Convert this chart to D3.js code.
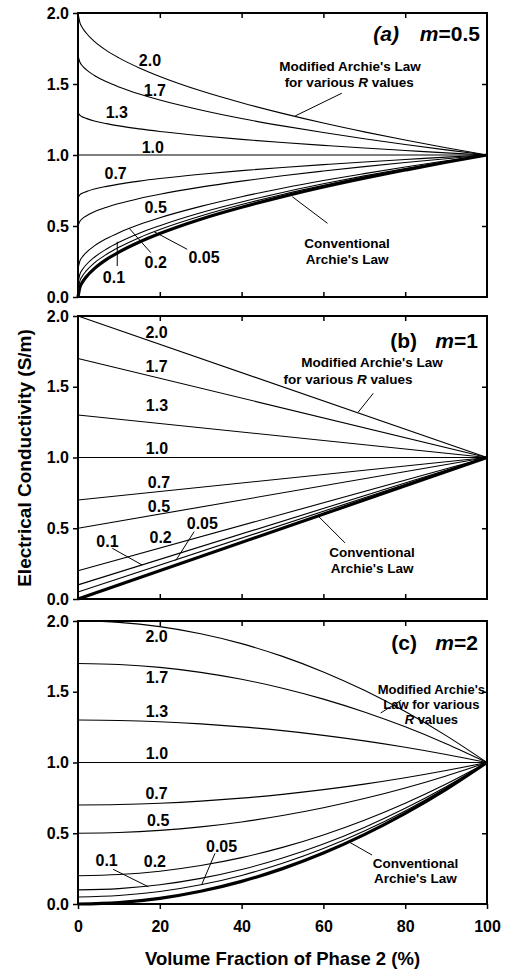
<!DOCTYPE html>
<html>
<head>
<meta charset="utf-8">
<script src="https://cdn.jsdelivr.net/npm/d3@7"></script>
<style>
    body { margin: 0; background: #fff; }
    text { font-family: "Liberation Sans", Arial, Helvetica, sans-serif; font-weight: bold; }
</style>
</head>
<body>
<svg id="chart" width="509" height="972"></svg>
<script>
// ---- data ----
// curve names (R = conductivity at 0 %), last one is conventional Archie's law
var rNames = ['2.0', '1.7', '1.3', '1.0', '0.7', '0.5', '0.2', '0.1', '0.05', 'conv'];
var xTicks = [0, 20, 40, 60, 80, 100];
var yTicks = [0, 0.5, 1.0, 1.5, 2.0];

// (a) m = 0.5
var xA = [0, 0.5, 1, 2, 4, 7, 10, 15, 20, 30, 40, 50, 60, 70, 80, 90, 100];
var a20 = [2.000, 1.929, 1.900, 1.859, 1.800, 1.735, 1.684, 1.613, 1.553, 1.452, 1.368, 1.293, 1.225, 1.163, 1.106, 1.051, 1.000];
var a17 = [1.700, 1.651, 1.630, 1.601, 1.560, 1.515, 1.479, 1.429, 1.387, 1.317, 1.257, 1.205, 1.158, 1.114, 1.074, 1.036, 1.000];
var a13 = [1.300, 1.279, 1.270, 1.258, 1.240, 1.221, 1.205, 1.184, 1.166, 1.136, 1.110, 1.088, 1.068, 1.049, 1.032, 1.015, 1.000];
var a10 = [1.000, 1.000, 1.000, 1.000, 1.000, 1.000, 1.000, 1.000, 1.000, 1.000, 1.000, 1.000, 1.000, 1.000, 1.000, 1.000, 1.000];
var a07 = [0.700, 0.721, 0.730, 0.742, 0.760, 0.779, 0.795, 0.816, 0.834, 0.864, 0.890, 0.912, 0.932, 0.951, 0.968, 0.985, 1.000];
var a05 = [0.500, 0.535, 0.550, 0.571, 0.600, 0.632, 0.658, 0.694, 0.724, 0.774, 0.816, 0.854, 0.887, 0.918, 0.947, 0.974, 1.000];
var a02 = [0.200, 0.257, 0.280, 0.313, 0.360, 0.412, 0.453, 0.510, 0.558, 0.638, 0.706, 0.766, 0.820, 0.869, 0.916, 0.959, 1.000];
var a01 = [0.100, 0.164, 0.190, 0.227, 0.280, 0.338, 0.385, 0.449, 0.502, 0.593, 0.669, 0.736, 0.797, 0.853, 0.905, 0.954, 1.000];
var a005 = [0.050, 0.117, 0.145, 0.184, 0.240, 0.301, 0.350, 0.418, 0.475, 0.570, 0.651, 0.722, 0.786, 0.845, 0.900, 0.951, 1.000];
var aConv = [0.000, 0.071, 0.100, 0.141, 0.200, 0.265, 0.316, 0.387, 0.447, 0.548, 0.632, 0.707, 0.775, 0.837, 0.894, 0.949, 1.000];

// (b) m = 1  (straight lines)
var xB = [0, 100];
var b20 = [2.0, 1.0];
var b17 = [1.7, 1.0];
var b13 = [1.3, 1.0];
var b10 = [1.0, 1.0];
var b07 = [0.7, 1.0];
var b05 = [0.5, 1.0];
var b02 = [0.2, 1.0];
var b01 = [0.1, 1.0];
var b005 = [0.05, 1.0];
var bConv = [0.0, 1.0];

// (c) m = 2
var xC = [0, 10, 20, 30, 40, 50, 60, 70, 80, 90, 100];
var c20 = [2.000, 1.990, 1.960, 1.910, 1.840, 1.750, 1.640, 1.510, 1.360, 1.190, 1.000];
var c17 = [1.700, 1.693, 1.672, 1.637, 1.588, 1.525, 1.448, 1.357, 1.252, 1.133, 1.000];
var c13 = [1.300, 1.297, 1.288, 1.273, 1.252, 1.225, 1.192, 1.153, 1.108, 1.057, 1.000];
var c10 = [1.000, 1.000, 1.000, 1.000, 1.000, 1.000, 1.000, 1.000, 1.000, 1.000, 1.000];
var c07 = [0.700, 0.703, 0.712, 0.727, 0.748, 0.775, 0.808, 0.847, 0.892, 0.943, 1.000];
var c05 = [0.500, 0.505, 0.520, 0.545, 0.580, 0.625, 0.680, 0.745, 0.820, 0.905, 1.000];
var c02 = [0.200, 0.208, 0.232, 0.272, 0.328, 0.400, 0.488, 0.592, 0.712, 0.848, 1.000];
var c01 = [0.100, 0.109, 0.136, 0.181, 0.244, 0.325, 0.424, 0.541, 0.676, 0.829, 1.000];
var c005 = [0.050, 0.060, 0.088, 0.136, 0.202, 0.288, 0.392, 0.516, 0.658, 0.820, 1.000];
var cConv = [0.000, 0.010, 0.040, 0.090, 0.160, 0.250, 0.360, 0.490, 0.640, 0.810, 1.000];

// ---- layout ----
var left = 78, right = 487;

// annotation layout, in data units [x %, conductivity]
var panels = [
    {
        top: 13, bottom: 297, xs: xA, bottomTicksIn: true,
        ys: [a20, a17, a13, a10, a07, a05, a02, a01, a005, aConv],
        title: { pre: '(a)', preItalic: true, rest: '=0.5', preEnd: 399, end: 480, v: 1.857 },
        labels: [['2.0', 17.6, 1.669], ['1.7', 18.8, 1.458], ['1.3', 9.5, 1.298], ['1.0', 18.3, 1.056],
                 ['0.7', 9.2, 0.873], ['0.5', 19.0, 0.634], ['0.2', 19.0, 0.246], ['0.05', 30.8, 0.282], ['0.1', 8.8, 0.141]],
        leaders: [[[9.6, 0.389], [9.6, 0.218]], [[12.5, 0.484], [17.8, 0.312]], [[18.6, 0.460], [26.7, 0.336]],
                  [[52.4, 0.706], [61.0, 0.519]], [[64.5, 1.435], [53.1, 1.275]]],
        notes: [
            { x: 66.5, v: 1.627, size: 13.5, parts: [["Modified Archie's Law", false]] },
            { x: 66.3, v: 1.512, size: 13.5, parts: [['for various ', false], ['R', true], [' values', false]] },
            { x: 65.8, v: 0.380, size: 13.5, parts: [['Conventional', false]] },
            { x: 65.8, v: 0.268, size: 13.5, parts: [["Archie's Law", false]] }
        ]
    },
    {
        top: 316, bottom: 599, xs: xB, bottomTicksIn: true,
        ys: [b20, b17, b13, b10, b07, b05, b02, b01, b005, bConv],
        title: { pre: '(b)', preItalic: false, rest: '=1', preEnd: 417, end: 478, v: 1.830 },
        labels: [['2.0', 19.2, 1.882], ['1.7', 19.2, 1.647], ['1.3', 19.3, 1.371], ['1.0', 19.3, 1.067],
                 ['0.7', 19.8, 0.822], ['0.5', 19.8, 0.657], ['0.2', 20.2, 0.440], ['0.05', 30.4, 0.535], ['0.1', 7.2, 0.405]],
        leaders: [[[8.4, 0.358], [15.7, 0.240]], [[28.4, 0.476], [23.9, 0.272]],
                  [[65.3, 0.396], [58.7, 0.587]], [[72.2, 1.454], [68.5, 1.320]]],
        notes: [
            { x: 71.9, v: 1.677, size: 13.5, parts: [["Modified Archie's Law", false]] },
            { x: 66.0, v: 1.553, size: 13.5, parts: [['for various ', false], ['R', true], [' values', false]] },
            { x: 71.9, v: 0.332, size: 13.5, parts: [['Conventional', false]] },
            { x: 71.9, v: 0.219, size: 13.5, parts: [["Archie's Law", false]] }
        ]
    },
    {
        top: 621, bottom: 904, xs: xC, bottomTicksIn: false,
        ys: [c20, c17, c13, c10, c07, c05, c02, c01, c005, cConv],
        title: { pre: '(c)', preItalic: false, rest: '=2', preEnd: 417, end: 478, v: 1.845 },
        labels: [['2.0', 19.2, 1.889], ['1.7', 19.3, 1.604], ['1.3', 19.3, 1.364], ['1.0', 19.3, 1.067],
                 ['0.7', 19.2, 0.784], ['0.5', 19.6, 0.589], ['0.2', 18.8, 0.299], ['0.05', 35.1, 0.405], ['0.1', 7.0, 0.306]],
        leaders: [[[8.6, 0.245], [17.2, 0.122]], [[33.5, 0.358], [30.2, 0.134]],
                  [[71.9, 0.346], [66.3, 0.438]], [[79.0, 1.440], [74.0, 1.350]]],
        notes: [
            { x: 86.4, v: 1.520, size: 13, parts: [["Modified Archie's", false]] },
            { x: 86.4, v: 1.412, size: 13, parts: [['Law for various', false]] },
            { x: 86.4, v: 1.302, size: 13, parts: [['R', true], [' values', false]] },
            { x: 82.5, v: 0.290, size: 13.5, parts: [['Conventional', false]] },
            { x: 82.5, v: 0.184, size: 13.5, parts: [["Archie's Law", false]] }
        ]
    }
];

var font = '"Liberation Sans", Arial, Helvetica, sans-serif';
var svg = d3.select('#chart');
var x = d3.scaleLinear().domain([0, 100]).range([left, right]);

function styleAxis(g, size) {
    g.select('.domain').remove();
    g.selectAll('line').attr('stroke', '#000').attr('stroke-width', 1.5);
    g.attr('font-family', font).attr('font-size', size).attr('font-weight', 'bold');
    g.selectAll('text').attr('fill', '#000');
}

panels.forEach(function(p) {
    var y = d3.scaleLinear().domain([0, 2]).range([p.bottom, p.top]);
    var g = svg.append('g').attr('class', 'panel');

    var line = d3.line()
        .x(function(d) { return x(d[0]); })
        .y(function(d) { return y(d[1]); })
        .curve(d3.curveMonotoneX);

    // curves
    g.selectAll('path.curve')
        .data(p.ys)
        .enter().append('path')
        .attr('class', 'curve')
        .attr('fill', 'none')
        .attr('stroke', '#000')
        .attr('stroke-width', function(d, i) { return rNames[i] === 'conv' ? 3.2 : 1.1; })
        .attr('d', function(d) { return line(p.xs.map(function(xv, k) { return [xv, d[k]]; })); });

    // frame
    g.append('rect')
        .attr('x', left).attr('y', p.top)
        .attr('width', right - left).attr('height', p.bottom - p.top)
        .attr('fill', 'none').attr('stroke', '#000').attr('stroke-width', 2);

    // left axis with labels
    g.append('g')
        .attr('transform', 'translate(' + left + ',0)')
        .call(d3.axisLeft(y).tickValues(yTicks).tickFormat(d3.format('.1f')).tickSize(5).tickSizeOuter(0).tickPadding(4))
        .call(styleAxis, 16);

    // right axis, ticks pointing in
    g.append('g')
        .attr('transform', 'translate(' + right + ',0)')
        .call(d3.axisLeft(y).tickValues(yTicks.slice(1, -1)).tickFormat('').tickSize(5).tickSizeOuter(0))
        .call(styleAxis, 16);

    // top axis, ticks pointing in
    g.append('g')
        .attr('transform', 'translate(0,' + p.top + ')')
        .call(d3.axisBottom(x).tickValues(xTicks.slice(1, -1)).tickFormat('').tickSize(5).tickSizeOuter(0))
        .call(styleAxis, 16);

    // bottom axis
    if (p.bottomTicksIn) {
        g.append('g')
            .attr('transform', 'translate(0,' + p.bottom + ')')
            .call(d3.axisTop(x).tickValues(xTicks.slice(1, -1)).tickFormat('').tickSize(5).tickSizeOuter(0))
            .call(styleAxis, 16);
    } else {
        g.append('g')
            .attr('transform', 'translate(0,' + p.bottom + ')')
            .call(d3.axisBottom(x).tickValues(xTicks).tickSize(5).tickSizeOuter(0).tickPadding(12))
            .call(styleAxis, 16);
    }

    // curve labels
    g.selectAll('text.rlab')
        .data(p.labels)
        .enter().append('text')
        .attr('class', 'rlab')
        .attr('x', function(d) { return x(d[1]); })
        .attr('y', function(d) { return y(d[2]); })
        .attr('dy', '0.36em')
        .attr('text-anchor', 'middle')
        .attr('font-size', 16)
        .text(function(d) { return d[0]; });

    // leader lines
    g.selectAll('line.leader')
        .data(p.leaders)
        .enter().append('line')
        .attr('class', 'leader')
        .attr('x1', function(d) { return x(d[0][0]); })
        .attr('y1', function(d) { return y(d[0][1]); })
        .attr('x2', function(d) { return x(d[1][0]); })
        .attr('y2', function(d) { return y(d[1][1]); })
        .attr('stroke', '#000').attr('stroke-width', 1);

    // notes
    p.notes.forEach(function(n) {
        var t = g.append('text')
            .attr('x', x(n.x)).attr('y', y(n.v))
            .attr('dy', '0.36em')
            .attr('text-anchor', 'middle')
            .attr('font-size', n.size);
        n.parts.forEach(function(pt) {
            t.append('tspan').attr('font-style', pt[1] ? 'italic' : 'normal').text(pt[0]);
        });
    });

    // panel title
    var ty = y(p.title.v);
    g.append('text')
        .attr('x', p.title.preEnd).attr('y', ty).attr('dy', '0.36em')
        .attr('text-anchor', 'end').attr('font-size', 21)
        .attr('font-style', p.title.preItalic ? 'italic' : 'normal')
        .text(p.title.pre);
    var tt = g.append('text')
        .attr('x', p.title.end).attr('y', ty).attr('dy', '0.36em')
        .attr('text-anchor', 'end').attr('font-size', 21);
    tt.append('tspan').attr('font-style', 'italic').text('m');
    tt.append('tspan').text(p.title.rest);
});

// axis titles
svg.append('text')
    .attr('transform', 'translate(24,458) rotate(-90)')
    .attr('text-anchor', 'middle')
    .attr('dy', '0.36em')
    .attr('font-size', 19)
    .text('Electrical Conductivity (S/m)');

svg.append('text')
    .attr('x', (left + right) / 2)
    .attr('y', 958)
    .attr('dy', '0.36em')
    .attr('text-anchor', 'middle')
    .attr('font-size', 18.5)
    .text('Volume Fraction of Phase 2 (%)');
</script>
</body>
</html>
